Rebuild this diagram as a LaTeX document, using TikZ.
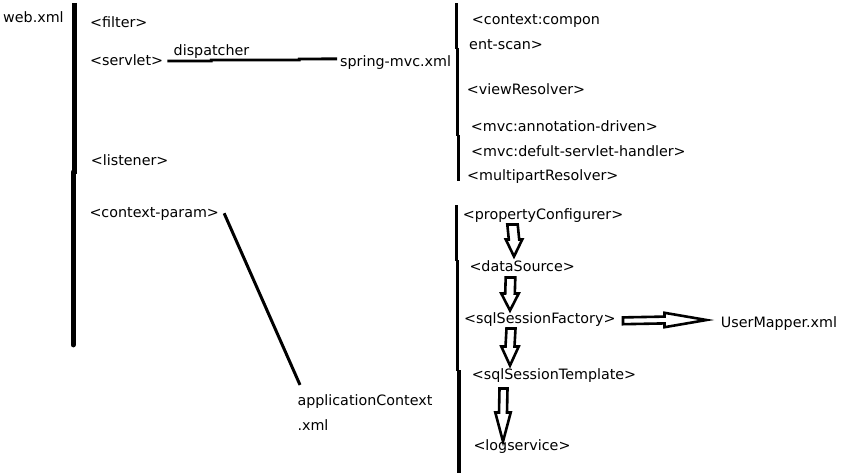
\documentclass[tikz,border=0pt]{standalone}
\usepackage{fontspec}
\setmainfont{DejaVu Sans}
\usetikzlibrary{positioning}
\usetikzlibrary{calc}

% hollow block arrows: start, tip, shaft half width, head half width, head length
\newcommand{\hollowdown}[5]{%
  \draw[hollow] ($(#1)+(-#3,0)$) -- ($(#2)+(-#3,-#5)$) -- ($(#2)+(-#4,-#5)$) -- (#2)
    -- ($(#2)+(#4,-#5)$) -- ($(#2)+(#3,-#5)$) -- ($(#1)+(#3,0)$) -- cycle;}
\newcommand{\hollowright}[5]{%
  \draw[hollow] ($(#1)+(0,-#3)$) -- ($(#2)+(-#5,-#3)$) -- ($(#2)+(-#5,-#4)$) -- (#2)
    -- ($(#2)+(-#5,#4)$) -- ($(#2)+(-#5,#3)$) -- ($(#1)+(0,#3)$) -- cycle;}

\begin{document}
\begin{tikzpicture}[x=1pt,y=-1pt,
			font=\fontsize{14.3}{16}\selectfont]
			\tikzstyle{tag}=[anchor=base west,inner sep=0pt]
			\tikzstyle{bar}=[line width=4.8pt]
			\tikzstyle{rbar}=[line width=3.4pt]
			\tikzstyle{wire}=[line width=2.8pt]
			\tikzstyle{hollow}=[line width=2.6pt,fill=white,line join=miter]
			
			\fill[white] (0,0) rectangle (850,473);
			\useasboundingbox (0,0) rectangle (850,473);
			
			% web.xml
			\node[tag] (W_web)      at (3,22.5)     {web.xml};
			\node[tag] (W_filter)   at (90,28)      {<filter>};
			\node[tag] (W_servlet)  at (90,65.5)    {<servlet>};
			\node[tag] (W_disp)     at (173.5,56)   {dispatcher};
			\node[tag] (W_spring)   at (340,67)     {spring-mvc.xml};
			\node[tag] (W_listener) at (90.7,165.5) {<listener>};
			\node[tag] (W_cparam)   at (89.3,217.3) {<context-param>};
			\node[tag] (W_app)      at (297.3,405)  {applicationContext};
			\node[tag] (W_appx)     at (297.3,430.7) {.xml};
			
			% spring-mvc.xml
			\node[tag] (M_scan)     at (471.7,25)   {<context:compon};
			\node[tag] (M_scanb)    at (469,50)     {ent-scan>};
			\node[tag] (M_view)     at (466.7,95)   {<viewResolver>};
			\node[tag] (M_annot)    at (470.7,131.7) {<mvc:annotation-driven>};
			\node[tag] (M_defult)   at (471,156.7)  {<mvc:defult-servlet-handler>};
			\node[tag] (M_multi)    at (467,180)    {<multipartResolver>};
			
			% applicationContext.xml
			\node[tag] (A_prop)     at (462.7,219)  {<propertyConfigurer>};
			\node[tag] (A_data)     at (469.3,271.7) {<dataSource>};
			\node[tag] (A_fact)     at (464,323)    {<sqlSessionFactory>};
			\node[tag] (A_templ)    at (471.7,379)  {<sqlSessionTemplate>};
			\node[tag] (A_log)      at (473.3,450)  {<logservice>};
			\node[tag] (A_mapper)   at (720.7,327)  {UserMapper.xml};
			
			\draw[bar] (74.3,3) -- (74.3,174);
			\draw[bar,line cap=round] (73.2,172) -- (73.2,345);
			\draw[rbar] (456.7,3.3) -- (456.7,49);
			\draw[rbar] (457.6,48) -- (457.6,136);
			\draw[rbar] (458.3,135) -- (458.3,180.5);
			\draw[rbar] (456.7,205) -- (456.7,261);
			\draw[rbar] (457.6,260) -- (457.6,371);
			\draw[rbar] (459,370) -- (459,473);
			
			\draw[wire] ([xshift=4pt,yshift=-0.8pt]W_servlet.east) -- ++(44,0) -- ++(0,-1) -- ++(88,0)
			  -- ++(0,-1) -- ([xshift=-3pt,yshift=4.2pt]W_spring.west);
			\draw[line width=3pt] ([xshift=5pt,yshift=0.5pt]W_cparam.east) -- ([xshift=2.7pt,yshift=9pt]W_app.north west);
			
			\coordinate (B_1) at (512.5,224.5);  \coordinate (B_1e) at (514,256.5);
			\coordinate (B_2) at (510.5,277.5);  \coordinate (B_2e) at (510,310.5);
			\coordinate (B_3) at (511,328.5);    \coordinate (B_3e) at (510,365.5);
			\coordinate (B_4) at (503.5,388.5);  \coordinate (B_4e) at (503,441.5);
			\coordinate (B_5) at (623,320.8); \coordinate (B_5e) at (706.5,320);
			
			\hollowdown{B_1}{B_1e}{5.2}{8.2}{17}
			\hollowdown{B_2}{B_2e}{4.8}{8.7}{17}
			\hollowdown{B_3}{B_3e}{4.5}{8.7}{19}
			\hollowdown{B_4}{B_4e}{4}{7.7}{29}
			\hollowright{B_5}{B_5e}{3.4}{7.2}{42}
			\end{tikzpicture}
\end{document}
